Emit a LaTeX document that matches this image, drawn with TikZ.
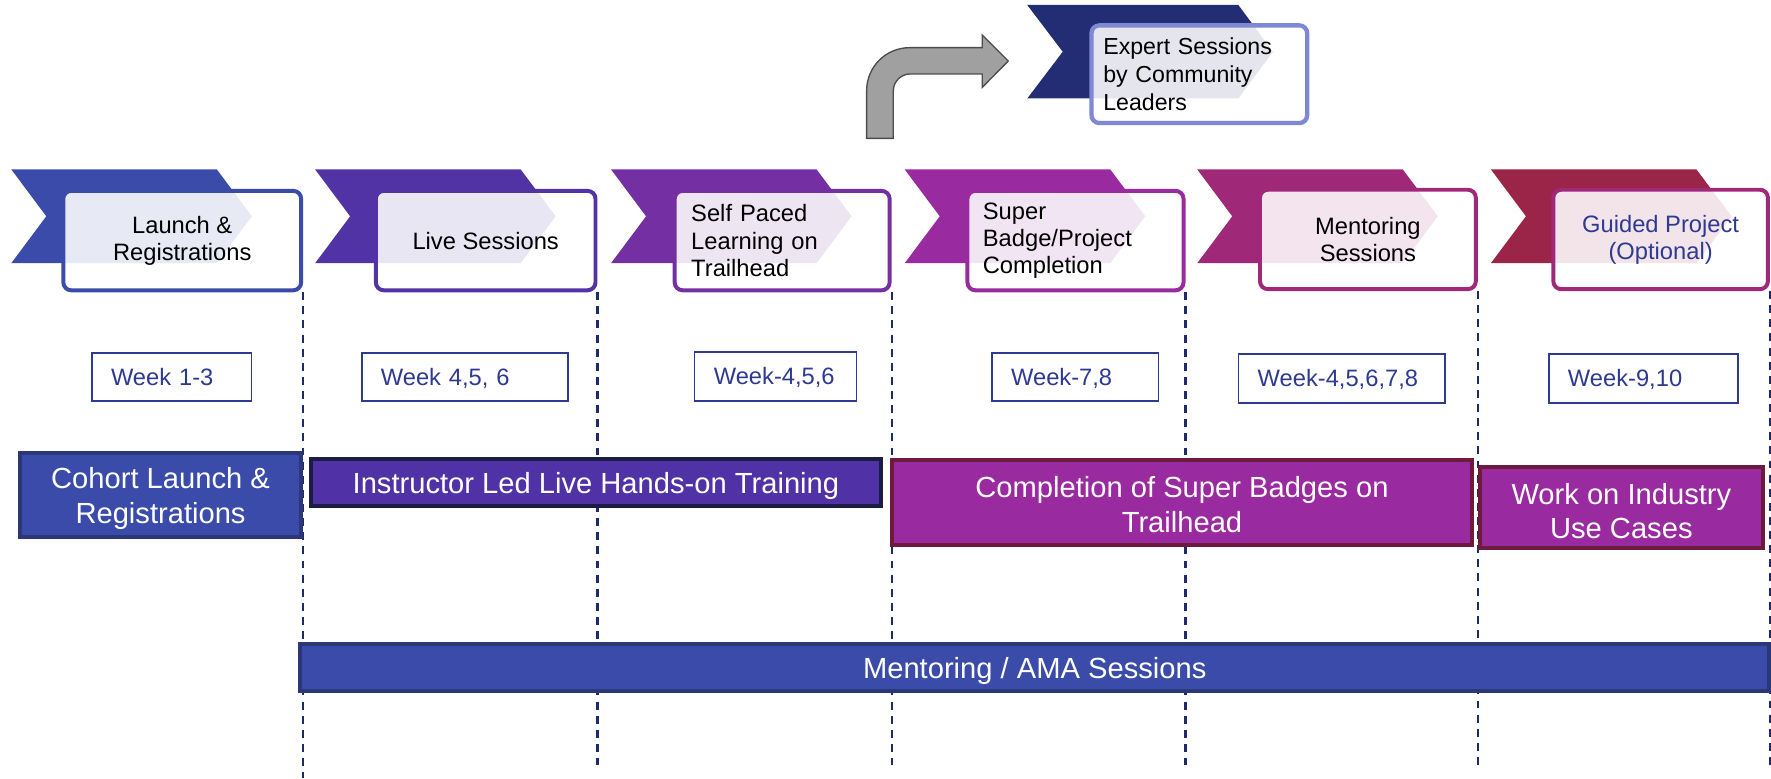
\documentclass[tikz,border=0pt]{standalone}
\usepackage{fontspec}
\setmainfont{Liberation Sans}
\definecolor{cA}{HTML}{3A4BAA}
\definecolor{cB}{HTML}{5133A6}
\definecolor{cC}{HTML}{742FA3}
\definecolor{cD}{HTML}{9A2AA0}
\definecolor{cE}{HTML}{A02878}
\definecolor{cF}{HTML}{9B2449}
\definecolor{expertc}{HTML}{232D73}
\definecolor{expertb}{HTML}{7E88D4}
\definecolor{weekc}{HTML}{2E3A92}
\definecolor{guidec}{HTML}{1F2A6B}
\definecolor{barblue}{HTML}{3A4BAA}
\definecolor{barblueb}{HTML}{2C3777}
\definecolor{barpurple}{HTML}{5031A6}
\definecolor{barpurpleb}{HTML}{1C1D45}
\definecolor{barmag}{HTML}{9A2A9F}
\definecolor{barmagb}{HTML}{6E1A3E}
\definecolor{arrowg}{HTML}{A0A0A0}
\definecolor{arrowe}{HTML}{4D4D4D}
\newcommand\mychev[3]{\fill[#3] (#1,#2) -- ++(182,0) -- ++(31,41.5) -- ++(-31,41.5) -- ++(-182,0) -- ++(31,-41.5) -- cycle;}
\tikzset{
  stagebox/.style={draw=#1, line width=3.5pt, rounded corners=7pt, fill=white, fill opacity=0.88, text opacity=1,
    font=\fontsize{21}{24}\selectfont, inner sep=0pt, minimum height=88pt, align=center},
  weekbox/.style={draw=weekc, line width=1.5pt, text=weekc, font=\fontsize{21}{24}\selectfont,
    inner sep=0pt, minimum height=43pt, align=left, fill=white, text height=15pt, text depth=0pt},
  barbox/.style 2 args={draw=#2, fill=#1, line width=3.5pt, inner sep=0pt},
  bartext/.style={text=white, font=\fontsize{25.8}{30.5}\selectfont, inner sep=0pt, align=center},
  guide/.style={draw=guidec, line width=1.8pt, dash pattern=on 7pt off 5.5pt},
}
\begin{document}
\begin{tikzpicture}[x=1pt,y=-1pt]
\useasboundingbox (0,0) rectangle (1568,689);

% top: bent arrow and expert chevron
\filldraw[fill=arrowg, draw=arrowe, line width=1.2pt]
  (767.3,122.5) -- (767.3,80.2) .. controls (767.3,59.2) and (784.3,42.2) .. (805.3,42.2)
  -- (869.7,42.2) -- (869.7,31) -- (892.7,54) -- (869.7,77.3) -- (869.7,65.5)
  -- (805.9,65.5) .. controls (797.6,65.5) and (790.9,72.2) .. (790.9,80.5)
  -- (790.9,122.5) -- cycle;
\fill[expertc] (909.5,4.4) -- (1096.4,4.4) -- (1127,45.8) -- (1096.4,87.2) -- (909.5,87.2) -- (940.9,45.8) -- cycle;
\node[draw=expertb, line width=3.8pt, rounded corners=7pt, fill=white, fill opacity=0.88, text opacity=1,
  font=\fontsize{20.5}{24.5}\selectfont, inner sep=0pt, minimum width=191pt, minimum height=86.5pt,
  text width=170pt, align=left] (ex) at (1061.85,65.7) {Expert Sessions\\by Community\\Leaders};

% chevrons
\mychev{10}{150}{cA}
\mychev{279}{150}{cB}
\mychev{541}{150}{cC}
\mychev{801}{150}{cD}
\mychev{1060}{150}{cE}
\mychev{1320}{150}{cF}

% stage boxes
\node[stagebox=cA, minimum width=210.6pt] (b1) at (161.35,213) {Launch \&\\Registrations};
\node[stagebox=cB, minimum width=194.5pt] (b2) at (430,213) {Live Sessions};
\node[stagebox=cC, minimum width=190.3pt, text width=161pt, align=left] (b3) at (692.5,213) {Self Paced\\Learning on\\Trailhead};
\node[stagebox=cD, minimum width=191.3pt, text width=164pt, align=left] (b4) at (952.2,213) {Super\\Badge/Project\\Completion};
\node[stagebox=cE, minimum width=191.1pt] (b5) at (1211.1,212) {Mentoring\\Sessions};
\node[stagebox=cE, minimum width=190pt, text=weekc] (b6) at (1470.25,212) {Guided Project\\(Optional)};

% guide lines
\coordinate (g1) at (b1.south east |- 0,689);
\coordinate (g2) at (b2.south east |- 0,677);
\coordinate (g3) at (b3.south east |- 0,677);
\coordinate (g4) at (b4.south east |- 0,677);
\coordinate (g5) at (b5.south east |- 0,677);
\coordinate (g6) at (b6.south east |- 0,677);
\draw[guide] (b1.south east) -- (g1);
\draw[guide] (b2.south east) -- (g2);
\draw[guide] (b3.south east) -- (g3);
\draw[guide] (b4.south east) -- (g4);
\draw[guide] (b5.south east) -- (g5);
\draw[guide] (b6.south east) -- (g6);

% week boxes
\node[weekbox, minimum width=141.3pt, text width=107.3pt] (w1) at (151.95,333.8) {Week 1-3};
\node[weekbox, minimum width=182.9pt, text width=148.9pt] (w2) at (411.65,333.8) {Week 4,5, 6};
\node[weekbox, minimum width=143.3pt, text width=109.3pt] (w3) at (686.65,333.3) {Week-4,5,6};
\node[weekbox, minimum width=147.4pt, text width=113.4pt] (w4) at (951.9,333.8) {Week-7,8};
\node[weekbox, minimum width=183.1pt, text width=149.1pt] (w5) at (1188.05,335.1) {Week-4,5,6,7,8};
\node[weekbox, minimum width=167.5pt, text width=133.5pt] (w6) at (1454.95,335.1) {Week-9,10};

% bars
\node[barbox={barblue}{barblueb}, minimum width=248.2pt, minimum height=75pt] (r1) at (142.15,438.25) {};
\node[barbox={barpurple}{barpurpleb}, minimum width=504.7pt, minimum height=41pt] (r2) at (527.6,427.25) {};
\node[barbox={barmag}{barmagb}, minimum width=513.5pt, minimum height=74.7pt] (r3) at (1046.5,444.9) {};
\node[barbox={barmag}{barmagb}, minimum width=250.3pt, minimum height=71.8pt] (r4) at (1435.5,449.35) {};
\node[barbox={barblue}{barblueb}, minimum width=1300.3pt, minimum height=42.3pt] (r5) at (916.1,590.9) {};
\node[bartext] (t1) at ([yshift=-3pt]r1.center) {Cohort Launch \&\\Registrations};
\node[bartext] (t2) at ([yshift=-3pt]r2.center) {Instructor Led Live Hands-on Training};
\node[bartext] (t3) at ([yshift=-2pt]r3.center) {Completion of Super Badges on\\Trailhead};
\node[bartext] (t4) at ([yshift=-3pt]r4.center) {Work on Industry\\Use Cases};
\node[bartext] (t5) at ([yshift=-3pt]r5.center) {Mentoring / AMA Sessions};
\end{tikzpicture}
\end{document}
